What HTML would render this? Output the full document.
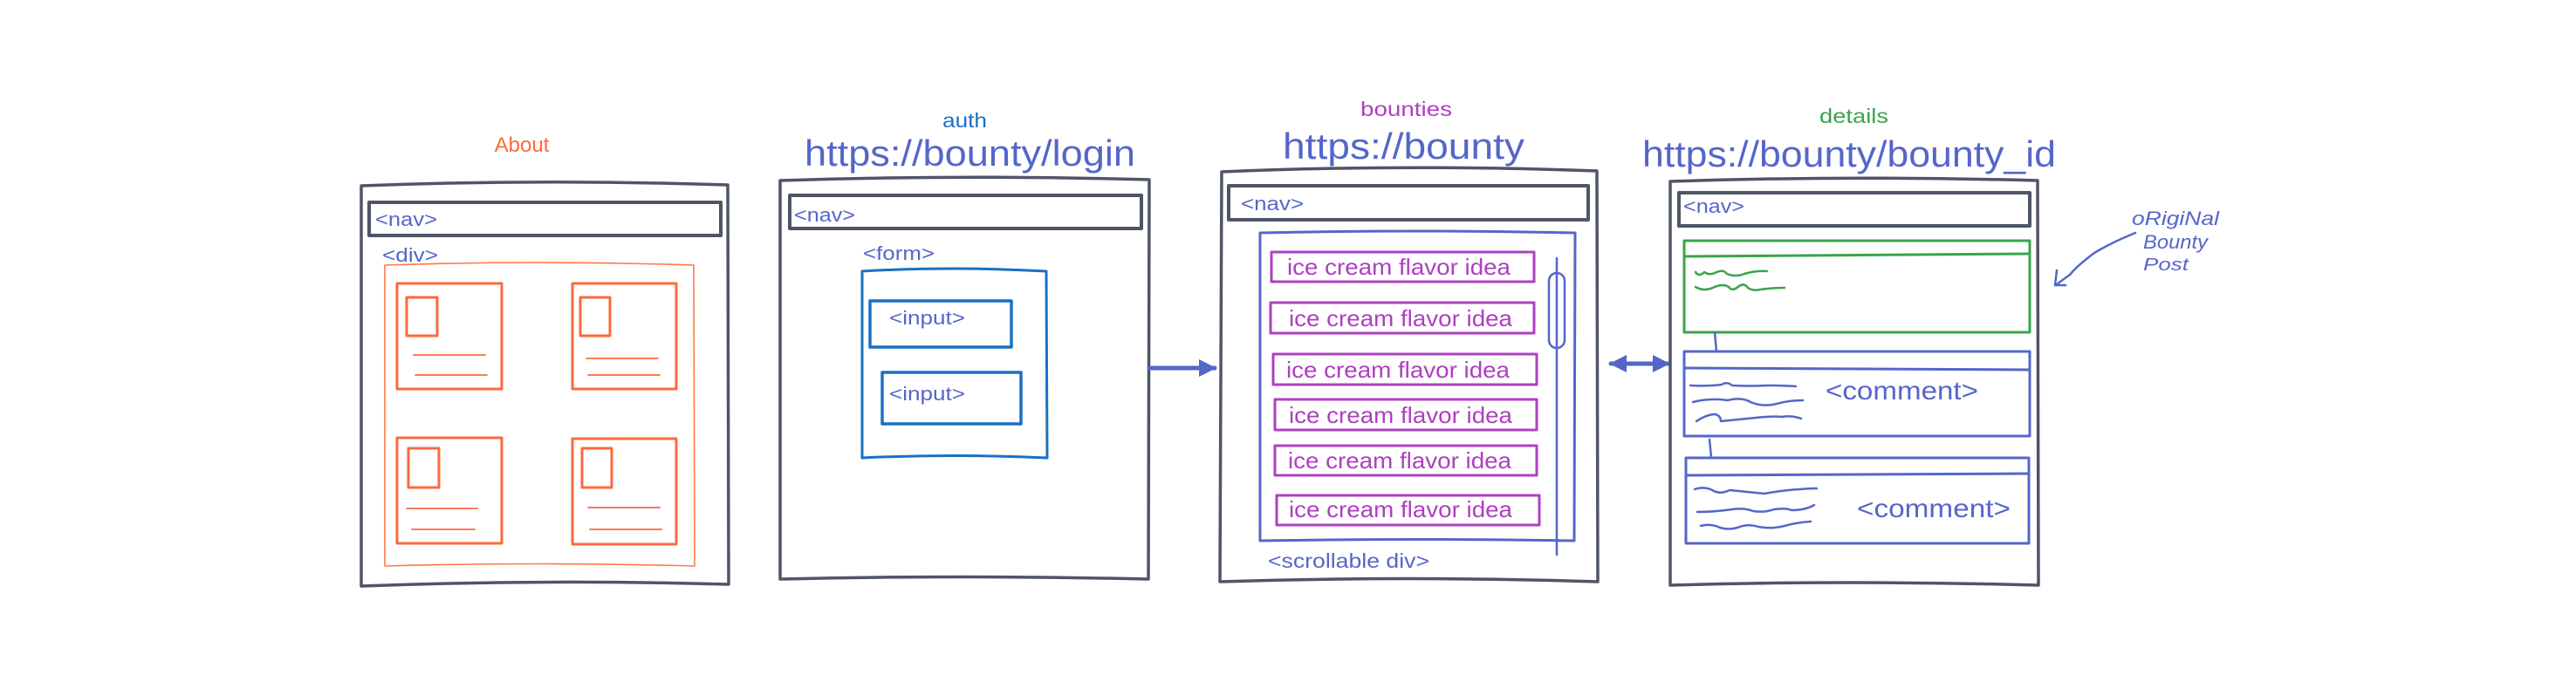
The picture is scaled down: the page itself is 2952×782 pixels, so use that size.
<!DOCTYPE html>
<html><head><meta charset="utf-8"><style>
html,body{margin:0;padding:0;background:#fff;}
svg{display:block;}
text{font-family:"Liberation Sans",sans-serif;}
</style></head><body>
<svg width="2952" height="782" viewBox="0 0 2952 782" xmlns="http://www.w3.org/2000/svg">
<defs>
<marker id="ah" viewBox="0 0 10 10" refX="9" refY="5" markerWidth="4" markerHeight="4" orient="auto-start-reverse"><path d="M0,0 L10,5 L0,10 z" fill="#5566c9"/></marker>
</defs>
<g fill="none" stroke-linecap="round" stroke-linejoin="round">
<!-- About -->
<path d="M414,213 Q620,205 834,212 L835,670 Q620,664 414,672 Z" stroke="#4e5566" stroke-width="3.5"/>
<rect x="423" y="232" width="403" height="38" stroke="#4e5566" stroke-width="4"/>
<path d="M441,304 Q620,298 795,304 L796,649 Q620,644 441,649 Z" stroke="#ff7a45" stroke-width="1.6"/>
<g stroke="#fa6a3c" stroke-width="3">
<rect x="455" y="325" width="120" height="121"/><rect x="466" y="341" width="35" height="44"/>
<rect x="656" y="325" width="119" height="121"/><rect x="665" y="341" width="34" height="44"/>
<rect x="455" y="502" width="120" height="121"/><rect x="468" y="514" width="35" height="45"/>
<rect x="656" y="503" width="119" height="121"/><rect x="667" y="514" width="34" height="45"/>
</g>
<g stroke="#fa6a3c" stroke-width="1.8">
<path d="M474,407 H556 M476,430 H558 M672,411 H754 M674,430 H756 M466,583 H547 M472,607 H544 M674,582 H756 M676,607 H758"/>
</g>
<!-- auth -->
<path d="M894,207 Q1100,200 1317,206 L1316,664 Q1100,659 894,664 Z" stroke="#4e5566" stroke-width="3.5"/>
<rect x="905" y="224" width="403" height="38" stroke="#4e5566" stroke-width="4"/>
<path d="M988,311 Q1090,305 1199,311 L1200,525 Q1090,520 988,525 Z" stroke="#1971c2" stroke-width="3"/>
<rect x="997" y="345" width="162" height="53" stroke="#1971c2" stroke-width="3.5"/>
<rect x="1011" y="427" width="159" height="59" stroke="#1971c2" stroke-width="3.5"/>
<line x1="1317" y1="422" x2="1392" y2="422" stroke="#5566c9" stroke-width="5" marker-end="url(#ah)"/>
<!-- bounties -->
<path d="M1400,197 Q1610,188 1830,196 L1831,667 Q1610,660 1398,667 Z" stroke="#4e5566" stroke-width="3.5"/>
<rect x="1408" y="213" width="412" height="39" stroke="#4e5566" stroke-width="4"/>
<path d="M1444,267 Q1620,263 1805,267 L1804,620 Q1620,617 1444,620 Z" stroke="#5566c9" stroke-width="3"/>
<g stroke="#ae40c0" stroke-width="3">
<rect x="1457" y="289" width="301" height="34"/>
<rect x="1456" y="347" width="302" height="35"/>
<rect x="1459" y="406" width="302" height="35"/>
<rect x="1461" y="458" width="300" height="35"/>
<rect x="1461" y="511" width="300" height="34"/>
<rect x="1463" y="568" width="301" height="34"/>
</g>
<line x1="1784" y1="296" x2="1784" y2="636" stroke="#5566c9" stroke-width="2.5"/>
<rect x="1775" y="313" width="18" height="86" rx="9" stroke="#5566c9" stroke-width="2.5"/>
<line x1="1846" y1="417" x2="1912" y2="417" stroke="#5566c9" stroke-width="5" marker-start="url(#ah)" marker-end="url(#ah)"/>
<!-- details -->
<path d="M1914,208 Q2120,201 2335,207 L2336,671 Q2120,665 1914,671 Z" stroke="#4e5566" stroke-width="3.5"/>
<rect x="1924" y="221" width="402" height="38" stroke="#4e5566" stroke-width="4"/>
<rect x="1930" y="276" width="396" height="105" stroke="#3aa34c" stroke-width="3"/>
<path d="M1931,294 L2325,291" stroke="#3aa34c" stroke-width="3"/>
<path d="M1943,312 q4,6 10,0 q6,4 12,1 q10,-5 14,1 q10,4 20,0 q14,-4 26,-3" stroke="#3aa34c" stroke-width="2.5"/>
<path d="M1943,329 q10,6 22,0 q10,-4 16,0 q4,6 12,-1 q6,-4 10,2 q6,4 14,2 q14,-2 28,-2" stroke="#3aa34c" stroke-width="2.5"/>
<line x1="1965" y1="381" x2="1967" y2="403" stroke="#5566c9" stroke-width="2.5"/>
<rect x="1930" y="403" width="396" height="97" stroke="#5566c9" stroke-width="3"/>
<path d="M1931,422 L2325,424" stroke="#5566c9" stroke-width="3"/>
<g stroke="#5566c9" stroke-width="2.5">
<path d="M1937,442 q20,1 36,-1 q6,-4 12,1 q20,1 40,0 q18,0 33,1"/>
<path d="M1940,461 q20,-5 40,-2 q16,-4 26,2 q14,6 30,2 q14,-4 30,-4"/>
<path d="M1944,483 q12,-8 22,-8 q6,2 6,8 q20,-2 40,-4 q20,-2 30,-1 q12,-2 22,2"/>
</g>
<line x1="1959" y1="504" x2="1961" y2="524" stroke="#5566c9" stroke-width="2.5"/>
<rect x="1932" y="525" width="393" height="98" stroke="#5566c9" stroke-width="3"/>
<path d="M1933,545 L2325,543" stroke="#5566c9" stroke-width="3"/>
<g stroke="#5566c9" stroke-width="2.5">
<path d="M1942,561 q12,-4 22,2 q8,4 18,-1 q20,2 40,4 q22,-4 40,-5 q10,-1 20,-1"/>
<path d="M1945,587 q20,0 40,-3 q14,-2 24,2 q12,2 24,-2 q14,-2 20,1 q16,0 26,-6"/>
<path d="M1949,603 q12,-3 22,2 q10,3 20,0 q12,-5 24,-1 q16,3 30,-1 q14,-4 30,-5"/>
</g>
<!-- annotation arrow -->
<path d="M2447,267 Q2420,278 2400,290 Q2380,305 2372,315 Q2362,322 2356,327" stroke="#5566c9" stroke-width="2.5"/>
<path d="M2357,310 L2355,327 L2367,327" stroke="#5566c9" stroke-width="2.5"/>
</g>
<!-- text -->
<g fill="#5566c9">
<text x="598" y="174" font-size="24" fill="#fa6a3c" text-anchor="middle">About</text>
<text x="1080" y="146" font-size="23" fill="#1971c2" textLength="51" lengthAdjust="spacingAndGlyphs">auth</text>
<text x="922" y="190" font-size="42" textLength="379" lengthAdjust="spacingAndGlyphs">https://bounty/login</text>
<text x="1559" y="133" font-size="23" fill="#ae40c0" textLength="105" lengthAdjust="spacingAndGlyphs">bounties</text>
<text x="1470" y="182" font-size="42" textLength="277" lengthAdjust="spacingAndGlyphs">https://bounty</text>
<text x="2085" y="141" font-size="23" fill="#3aa34c" textLength="79" lengthAdjust="spacingAndGlyphs">details</text>
<text x="1882" y="191" font-size="42" textLength="474" lengthAdjust="spacingAndGlyphs">https://bounty/bounty_id</text>
<text x="430" y="259" font-size="22" textLength="71" lengthAdjust="spacingAndGlyphs">&lt;nav&gt;</text>
<text x="438" y="300" font-size="22" textLength="64" lengthAdjust="spacingAndGlyphs">&lt;div&gt;</text>
<text x="910" y="254" font-size="22" textLength="70" lengthAdjust="spacingAndGlyphs">&lt;nav&gt;</text>
<text x="989" y="298" font-size="22" textLength="82" lengthAdjust="spacingAndGlyphs">&lt;form&gt;</text>
<text x="1019" y="372" font-size="22" textLength="87" lengthAdjust="spacingAndGlyphs">&lt;input&gt;</text>
<text x="1019" y="459" font-size="22" textLength="87" lengthAdjust="spacingAndGlyphs">&lt;input&gt;</text>
<text x="1422" y="241" font-size="22" textLength="72" lengthAdjust="spacingAndGlyphs">&lt;nav&gt;</text>
<text x="1453" y="651" font-size="23" textLength="185" lengthAdjust="spacingAndGlyphs">&lt;scrollable div&gt;</text>
<text x="1929" y="244" font-size="22" textLength="70" lengthAdjust="spacingAndGlyphs">&lt;nav&gt;</text>
<text x="2092" y="458" font-size="30" textLength="175" lengthAdjust="spacingAndGlyphs">&lt;comment&gt;</text>
<text x="2128" y="593" font-size="30" textLength="176" lengthAdjust="spacingAndGlyphs">&lt;comment&gt;</text>
<text x="2443" y="258" font-size="22" font-style="italic" textLength="100" lengthAdjust="spacingAndGlyphs">oRigiNal</text>
<text x="2456" y="285" font-size="22" font-style="italic" textLength="74" lengthAdjust="spacingAndGlyphs">Bounty</text>
<text x="2456" y="310" font-size="20" font-style="italic" textLength="52" lengthAdjust="spacingAndGlyphs">Post</text>
</g>
<g fill="#ae40c0" font-size="26">
<text x="1475" y="315" textLength="256" lengthAdjust="spacingAndGlyphs">ice cream flavor idea</text>
<text x="1477" y="374" textLength="256" lengthAdjust="spacingAndGlyphs">ice cream flavor idea</text>
<text x="1474" y="433" textLength="256" lengthAdjust="spacingAndGlyphs">ice cream flavor idea</text>
<text x="1477" y="485" textLength="256" lengthAdjust="spacingAndGlyphs">ice cream flavor idea</text>
<text x="1476" y="537" textLength="256" lengthAdjust="spacingAndGlyphs">ice cream flavor idea</text>
<text x="1477" y="593" textLength="256" lengthAdjust="spacingAndGlyphs">ice cream flavor idea</text>
</g>
</svg>
</body></html>
